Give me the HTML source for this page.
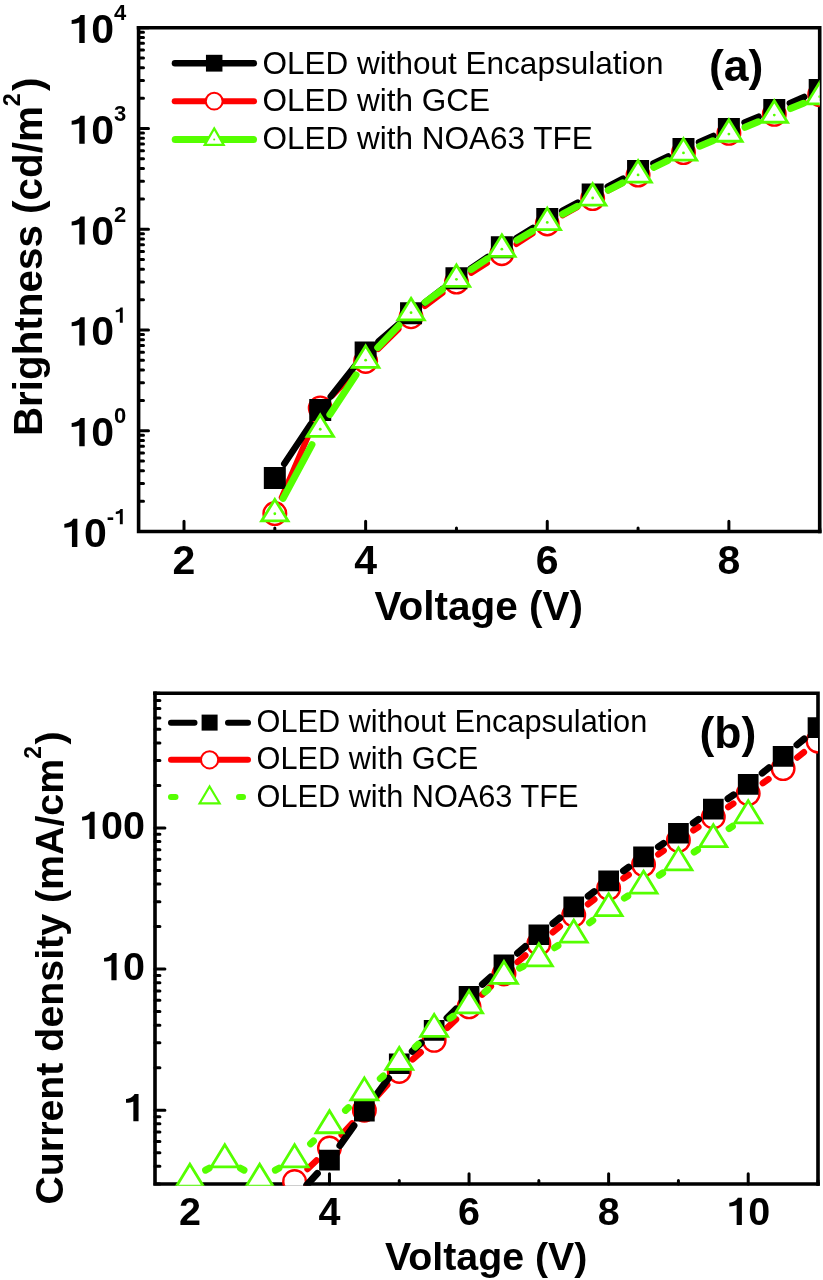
<!DOCTYPE html><html><head><meta charset="utf-8"><style>html,body{margin:0;padding:0;background:#fff;}svg{display:block;filter:blur(0.4px);}</style></head><body>
<svg width="823" height="1280" viewBox="0 0 823 1280" font-family='"Liberation Sans", sans-serif'>
<rect width="823" height="1280" fill="#fff"/>
<defs><clipPath id="c1"><rect x="138.6" y="27.7" width="681.1" height="505.6"/></clipPath>
<clipPath id="c2"><rect x="155" y="693.2" width="663" height="492.6"/></clipPath></defs>
<path d="M184.01 531.5V521.2M365.63 531.5V521.2M547.26 531.5V521.2M728.89 531.5V521.2M274.82 531.5V528.1M456.45 531.5V528.1M638.07 531.5V528.1M819.7 531.5V528.1M138.6 531.5H148.5M138.6 501.17H143.5M138.6 483.43H143.5M138.6 470.84H143.5M138.6 461.07H143.5M138.6 453.09H143.5M138.6 446.35H143.5M138.6 440.5H143.5M138.6 435.35H143.5M138.6 430.74H148.5M138.6 400.41H143.5M138.6 382.67H143.5M138.6 370.08H143.5M138.6 360.31H143.5M138.6 352.33H143.5M138.6 345.59H143.5M138.6 339.74H143.5M138.6 334.59H143.5M138.6 329.98H148.5M138.6 299.65H143.5M138.6 281.91H143.5M138.6 269.32H143.5M138.6 259.55H143.5M138.6 251.57H143.5M138.6 244.83H143.5M138.6 238.98H143.5M138.6 233.83H143.5M138.6 229.22H148.5M138.6 198.89H143.5M138.6 181.15H143.5M138.6 168.56H143.5M138.6 158.79H143.5M138.6 150.81H143.5M138.6 144.07H143.5M138.6 138.22H143.5M138.6 133.07H143.5M138.6 128.46H148.5M138.6 98.13H143.5M138.6 80.39H143.5M138.6 67.8H143.5M138.6 58.03H143.5M138.6 50.05H143.5M138.6 43.31H143.5M138.6 37.46H143.5M138.6 32.31H143.5M138.6 27.7H148.5" stroke="#000" stroke-width="3" stroke-linecap="round" fill="none"/>
<path d="M138.6 25.9V531.5H821.5" stroke="#000" stroke-width="3.6" fill="none" stroke-linejoin="miter"/>
<path d="M136.8 27.7H819.7V533.3" stroke="#000" stroke-width="3.6" fill="none" stroke-linejoin="miter"/>
<g clip-path="url(#c1)">
<path d="M281.73 497.49L313.31 424.04M332.45 395.44L353.41 373.94M378.11 349.15L398.56 329.05M424.95 306.16L442.54 292.74M471.28 272.84L487.02 262.99M516.48 244.1L532.63 233.49M562.55 215.36L577.38 207.1M608.21 190.55L622.53 183.15M653.74 167.32L667.81 160.33M699.59 145.71L712.77 140.13M745.04 126.56L758.14 121.09M790.35 107.4L803.64 101.66" stroke="#ff0000" stroke-width="6" fill="none" stroke-linecap="round"/>
<circle cx="274.82" cy="513.56" r="11.3" fill="#fff" stroke="#f00" stroke-width="2.4"/>
<circle cx="320.23" cy="407.97" r="11.3" fill="#fff" stroke="#f00" stroke-width="2.4"/>
<circle cx="365.63" cy="361.42" r="11.3" fill="#fff" stroke="#f00" stroke-width="2.4"/>
<circle cx="411.04" cy="316.78" r="11.3" fill="#fff" stroke="#f00" stroke-width="2.4"/>
<circle cx="456.45" cy="282.12" r="11.3" fill="#fff" stroke="#f00" stroke-width="2.4"/>
<circle cx="501.85" cy="253.7" r="11.3" fill="#fff" stroke="#f00" stroke-width="2.4"/>
<circle cx="547.26" cy="223.88" r="11.3" fill="#fff" stroke="#f00" stroke-width="2.4"/>
<circle cx="592.67" cy="198.59" r="11.3" fill="#fff" stroke="#f00" stroke-width="2.4"/>
<circle cx="638.07" cy="175.11" r="11.3" fill="#fff" stroke="#f00" stroke-width="2.4"/>
<circle cx="683.48" cy="152.54" r="11.3" fill="#fff" stroke="#f00" stroke-width="2.4"/>
<circle cx="728.89" cy="133.3" r="11.3" fill="#fff" stroke="#f00" stroke-width="2.4"/>
<circle cx="774.29" cy="114.35" r="11.3" fill="#fff" stroke="#f00" stroke-width="2.4"/>
<circle cx="819.7" cy="94.71" r="11.3" fill="#fff" stroke="#f00" stroke-width="2.4"/>
<path d="M284.25 463.85L310.8 424.03M330.77 396.55L355.09 365.79M378.5 341.34L398.17 324.36M424.5 302.86L442.99 288.58M470.51 268.64L487.79 256.91M516.26 238.34L532.85 227.96M562.22 210.87L577.7 202.53M607.75 186.62L622.99 178.71M653.4 163.53L668.15 156.46M699.03 142.25L713.34 135.93M744.58 122.52L758.6 116.67M789.84 103.25L804.15 96.94" stroke="#000" stroke-width="6.5" fill="none" stroke-linecap="round"/>
<path d="M263.82 467h22v22h-22zM309.23 398.88h22v22h-22zM354.63 341.45h22v22h-22zM400.04 302.25h22v22h-22zM445.45 267.19h22v22h-22zM490.85 236.36h22v22h-22zM536.26 207.94h22v22h-22zM581.67 183.46h22v22h-22zM627.07 159.88h22v22h-22zM672.48 138.12h22v22h-22zM717.89 118.06h22v22h-22zM763.29 99.12h22v22h-22zM808.7 79.07h22v22h-22z" fill="#000"/>
<path d="M283.1 498.35L311.95 444.65M329.84 414.61L356.02 374.83M377.72 347.55L398.96 325.31M425.14 302.29L442.34 289.66M471.03 269.62L487.27 258.85M516.94 240.3L532.17 231.34M562.66 214.16L577.26 206.29M608.27 190.06L622.47 182.84M653.83 167.29L667.73 160.57M699.64 146.24L712.72 140.81M745.02 127.33L758.16 121.83M790.52 108.51L803.47 103.27" stroke="#55ff00" stroke-width="7" fill="none" stroke-linecap="round"/>
<path d="M274.82 499.43L288.07 520.93L261.57 520.93Z" fill="#fff" stroke="#55ff00" stroke-width="2.8" stroke-linejoin="miter"/>
<circle cx="274.82" cy="513.77" r="1.4" fill="#55ff00"/>
<path d="M320.23 414.9L333.48 436.4L306.98 436.4Z" fill="#fff" stroke="#55ff00" stroke-width="2.8" stroke-linejoin="miter"/>
<circle cx="320.23" cy="429.23" r="1.4" fill="#55ff00"/>
<path d="M365.63 345.87L378.88 367.37L352.38 367.37Z" fill="#fff" stroke="#55ff00" stroke-width="2.8" stroke-linejoin="miter"/>
<circle cx="365.63" cy="360.21" r="1.4" fill="#55ff00"/>
<path d="M411.04 298.32L424.29 319.82L397.79 319.82Z" fill="#fff" stroke="#55ff00" stroke-width="2.8" stroke-linejoin="miter"/>
<circle cx="411.04" cy="312.65" r="1.4" fill="#55ff00"/>
<path d="M456.45 264.96L469.7 286.46L443.2 286.46Z" fill="#fff" stroke="#55ff00" stroke-width="2.8" stroke-linejoin="miter"/>
<circle cx="456.45" cy="279.3" r="1.4" fill="#55ff00"/>
<path d="M501.85 234.84L515.1 256.34L488.6 256.34Z" fill="#fff" stroke="#55ff00" stroke-width="2.8" stroke-linejoin="miter"/>
<circle cx="501.85" cy="249.17" r="1.4" fill="#55ff00"/>
<path d="M547.26 208.14L560.51 229.64L534.01 229.64Z" fill="#fff" stroke="#55ff00" stroke-width="2.8" stroke-linejoin="miter"/>
<circle cx="547.26" cy="222.47" r="1.4" fill="#55ff00"/>
<path d="M592.67 183.65L605.92 205.15L579.42 205.15Z" fill="#fff" stroke="#55ff00" stroke-width="2.8" stroke-linejoin="miter"/>
<circle cx="592.67" cy="197.98" r="1.4" fill="#55ff00"/>
<path d="M638.07 160.58L651.32 182.08L624.82 182.08Z" fill="#fff" stroke="#55ff00" stroke-width="2.8" stroke-linejoin="miter"/>
<circle cx="638.07" cy="174.91" r="1.4" fill="#55ff00"/>
<path d="M683.48 138.61L696.73 160.11L670.23 160.11Z" fill="#fff" stroke="#55ff00" stroke-width="2.8" stroke-linejoin="miter"/>
<circle cx="683.48" cy="152.94" r="1.4" fill="#55ff00"/>
<path d="M728.89 119.77L742.14 141.27L715.64 141.27Z" fill="#fff" stroke="#55ff00" stroke-width="2.8" stroke-linejoin="miter"/>
<circle cx="728.89" cy="134.1" r="1.4" fill="#55ff00"/>
<path d="M774.29 100.73L787.54 122.23L761.04 122.23Z" fill="#fff" stroke="#55ff00" stroke-width="2.8" stroke-linejoin="miter"/>
<circle cx="774.29" cy="115.06" r="1.4" fill="#55ff00"/>
<path d="M819.7 82.39L832.95 103.89L806.45 103.89Z" fill="#fff" stroke="#55ff00" stroke-width="2.8" stroke-linejoin="miter"/>
<circle cx="819.7" cy="96.72" r="1.4" fill="#55ff00"/>
</g>
<text x="172.61" y="574.4" font-size="41" font-weight="bold">2</text>
<text x="354.23" y="574.4" font-size="41" font-weight="bold">4</text>
<text x="535.86" y="574.4" font-size="41" font-weight="bold">6</text>
<text x="717.49" y="574.4" font-size="41" font-weight="bold">8</text>
<path d="M810 0L810 1409L600 1409C560 1300 420 1190 160 1150L160 960C330 965 460 990 540 1030L540 0Z" transform="matrix(0.02002 0 0 -0.02002 61.13 546.9)"/>
<text x="83.94" y="546.9" font-size="41" font-weight="bold">0</text>
<text x="106.74" y="524.2" font-size="22" font-weight="bold">-</text>
<path d="M810 0L810 1409L600 1409C560 1300 420 1190 160 1150L160 960C330 965 460 990 540 1030L540 0Z" transform="matrix(0.01074 0 0 -0.01074 114.06 524.2)"/>
<path d="M810 0L810 1409L600 1409C560 1300 420 1190 160 1150L160 960C330 965 460 990 540 1030L540 0Z" transform="matrix(0.02002 0 0 -0.02002 68.46 446.14)"/>
<text x="91.26" y="446.14" font-size="41" font-weight="bold">0</text>
<text x="114.06" y="423.44" font-size="22" font-weight="bold">0</text>
<path d="M810 0L810 1409L600 1409C560 1300 420 1190 160 1150L160 960C330 965 460 990 540 1030L540 0Z" transform="matrix(0.02002 0 0 -0.02002 68.46 345.38)"/>
<text x="91.26" y="345.38" font-size="41" font-weight="bold">0</text>
<path d="M810 0L810 1409L600 1409C560 1300 420 1190 160 1150L160 960C330 965 460 990 540 1030L540 0Z" transform="matrix(0.01074 0 0 -0.01074 114.06 322.68)"/>
<path d="M810 0L810 1409L600 1409C560 1300 420 1190 160 1150L160 960C330 965 460 990 540 1030L540 0Z" transform="matrix(0.02002 0 0 -0.02002 68.46 244.62)"/>
<text x="91.26" y="244.62" font-size="41" font-weight="bold">0</text>
<text x="114.06" y="221.92" font-size="22" font-weight="bold">2</text>
<path d="M810 0L810 1409L600 1409C560 1300 420 1190 160 1150L160 960C330 965 460 990 540 1030L540 0Z" transform="matrix(0.02002 0 0 -0.02002 68.46 143.86)"/>
<text x="91.26" y="143.86" font-size="41" font-weight="bold">0</text>
<text x="114.06" y="121.16" font-size="22" font-weight="bold">3</text>
<path d="M810 0L810 1409L600 1409C560 1300 420 1190 160 1150L160 960C330 965 460 990 540 1030L540 0Z" transform="matrix(0.02002 0 0 -0.02002 68.46 43.1)"/>
<text x="91.26" y="43.1" font-size="41" font-weight="bold">0</text>
<text x="114.06" y="20.4" font-size="22" font-weight="bold">4</text>
<text x="478.75" y="620.1" font-size="40.5" font-weight="bold" text-anchor="middle">Voltage (V)</text>
<text transform="translate(41.8 436.1) rotate(-90)" font-size="40.4" font-weight="bold">Brightness (cd/m<tspan dy="-22" font-size="23.5">2</tspan><tspan dy="22" dx="2">)</tspan></text>
<text x="709" y="81.3" font-size="44.5" font-weight="bold">(a)</text>
<path d="M174.95 63.2H253.75" stroke="#000" stroke-width="6.5" stroke-linecap="round"/>
<path d="M174.7 101.2H254" stroke="#ff0000" stroke-width="6" stroke-linecap="round"/>
<path d="M175.2 139.6H253.5" stroke="#55ff00" stroke-width="7" stroke-linecap="round"/>
<rect x="205.95" y="54.8" width="16.5" height="16.8" fill="#000"/>
<circle cx="214.2" cy="101.2" r="8.4" fill="#fff" stroke="#ff0000" stroke-width="2"/>
<path d="M214.2 128.4L223.7 144.9L204.7 144.9Z" fill="#fff" stroke="#55ff00" stroke-width="2.2"/>
<circle cx="214.2" cy="139.4" r="1" fill="#55ff00"/>
<text x="262.5" y="73.5" font-size="31.5">OLED without Encapsulation</text>
<text x="262.5" y="111.2" font-size="31.5">OLED with GCE</text>
<text x="262.5" y="148.9" font-size="31.5">OLED with NOA63 TFE</text>
<path d="M189.89 1184V1173.7M329.47 1184V1173.7M469.05 1184V1173.7M608.63 1184V1173.7M748.21 1184V1173.7M259.68 1184V1180.6M399.26 1184V1180.6M538.84 1184V1180.6M678.42 1184V1180.6M818 1184V1180.6M155 1184H159.9M155 1166.36H159.9M155 1152.69H159.9M155 1141.51H159.9M155 1132.06H159.9M155 1123.87H159.9M155 1116.65H159.9M155 1110.2H164.9M155 1067.7H159.9M155 1042.85H159.9M155 1025.21H159.9M155 1011.53H159.9M155 1000.36H159.9M155 990.91H159.9M155 982.72H159.9M155 975.5H159.9M155 969.04H164.9M155 926.55H159.9M155 901.7H159.9M155 884.06H159.9M155 870.38H159.9M155 859.21H159.9M155 849.76H159.9M155 841.57H159.9M155 834.35H159.9M155 827.89H164.9M155 785.4H159.9M155 760.55H159.9M155 742.91H159.9M155 729.23H159.9M155 718.06H159.9M155 708.61H159.9M155 700.42H159.9M155 693.2H159.9" stroke="#000" stroke-width="3" stroke-linecap="round" fill="none"/>
<path d="M155 691.4V1184H819.8" stroke="#000" stroke-width="3.6" fill="none" stroke-linejoin="miter"/>
<path d="M153.2 693.2H818V1185.8" stroke="#000" stroke-width="3.6" fill="none" stroke-linejoin="miter"/>
<g clip-path="url(#c2)">
<path d="M307.57 1169.02L316.48 1160.48M341.68 1134.79L352.16 1123.43M376.4 1096.81L387.23 1084.76M412.71 1059.41L420.71 1052.29M447.15 1027.87L456.06 1019.33M482.15 994.53L490.85 986.33M517.53 962.17L525.26 955.45M552.78 932.25L559.8 926.51M588.04 904.19L594.33 899.38M623.49 878.29L628.67 874.75M658.3 854.31L663.65 850.59M693.39 830.32L698.34 827.02M728.26 806.99L733.27 803.63M762.85 783.11L768.47 779.09M797.24 757.46L803.87 752.23" stroke="#ff0000" stroke-width="6.5" fill="none" stroke-linecap="round"/>
<circle cx="294.58" cy="1181.48" r="11.3" fill="#fff" stroke="#f00" stroke-width="2.4"/>
<circle cx="329.47" cy="1148.02" r="11.3" fill="#fff" stroke="#f00" stroke-width="2.4"/>
<circle cx="364.37" cy="1110.2" r="11.3" fill="#fff" stroke="#f00" stroke-width="2.4"/>
<circle cx="399.26" cy="1071.38" r="11.3" fill="#fff" stroke="#f00" stroke-width="2.4"/>
<circle cx="434.16" cy="1040.33" r="11.3" fill="#fff" stroke="#f00" stroke-width="2.4"/>
<circle cx="469.05" cy="1006.87" r="11.3" fill="#fff" stroke="#f00" stroke-width="2.4"/>
<circle cx="503.95" cy="973.98" r="11.3" fill="#fff" stroke="#f00" stroke-width="2.4"/>
<circle cx="538.84" cy="943.64" r="11.3" fill="#fff" stroke="#f00" stroke-width="2.4"/>
<circle cx="573.74" cy="915.12" r="11.3" fill="#fff" stroke="#f00" stroke-width="2.4"/>
<circle cx="608.63" cy="888.45" r="11.3" fill="#fff" stroke="#f00" stroke-width="2.4"/>
<circle cx="643.53" cy="864.59" r="11.3" fill="#fff" stroke="#f00" stroke-width="2.4"/>
<circle cx="678.42" cy="840.31" r="11.3" fill="#fff" stroke="#f00" stroke-width="2.4"/>
<circle cx="713.32" cy="817.02" r="11.3" fill="#fff" stroke="#f00" stroke-width="2.4"/>
<circle cx="748.21" cy="793.59" r="11.3" fill="#fff" stroke="#f00" stroke-width="2.4"/>
<circle cx="783.11" cy="768.61" r="11.3" fill="#fff" stroke="#f00" stroke-width="2.4"/>
<circle cx="818" cy="741.08" r="11.3" fill="#fff" stroke="#f00" stroke-width="2.4"/>
<path d="M306.71 1185.12L317.34 1173.46M339.9 1145.49L353.94 1125.72M375.06 1096.56L388.58 1078.24M412.28 1051.33L421.14 1042.87M447.05 1017.88L456.16 1008.99M482.42 984.37L490.58 977.01M517.56 953.17L525.23 946.52M552.89 923.49L559.69 918.05M588.2 896.09L594.16 891.67M623.46 870.77L628.69 867.17M658.41 846.85L663.53 843.37M693.22 823.02L698.51 819.36M728.01 798.72L733.52 794.82M762.23 773.13L769.08 767.62M796.99 744.87L804.12 738.99" stroke="#000" stroke-width="7" fill="none" stroke-linecap="round"/>
<path d="M284.23 1188.06h20.7v20.7h-20.7zM319.12 1149.81h20.7v20.7h-20.7zM354.02 1100.69h20.7v20.7h-20.7zM388.91 1053.41h20.7v20.7h-20.7zM423.81 1020.09h20.7v20.7h-20.7zM458.7 986.08h20.7v20.7h-20.7zM493.6 954.6h20.7v20.7h-20.7zM528.49 924.39h20.7v20.7h-20.7zM563.39 896.45h20.7v20.7h-20.7zM598.28 870.62h20.7v20.7h-20.7zM633.18 846.62h20.7v20.7h-20.7zM668.07 822.91h20.7v20.7h-20.7zM702.97 798.77h20.7v20.7h-20.7zM737.86 774.07h20.7v20.7h-20.7zM772.76 745.98h20.7v20.7h-20.7zM807.65 717.18h20.7v20.7h-20.7z" fill="#000"/>
<path d="M205.6 1170.17L209.09 1168.22M240.49 1168.22L243.98 1170.17M275.39 1170.17L278.88 1168.22M310.59 1143.84L313.46 1141.05M345.47 1110.37L348.38 1107.62M380.31 1078.62L383.32 1075.99M415.26 1046.92L418.16 1044.17M449.95 1018.37L453.26 1016.13M484.97 992.07L488.03 989.49M519.61 968.18L523.18 966.38M554.64 947.72L557.94 945.48M589.59 922.75L592.78 920.34M624.4 898.14L627.76 895.97M659.31 875.23L662.64 873.01M694.2 852.01L697.54 849.79M729.11 828.53L732.41 826.27" stroke="#55ff00" stroke-width="7" stroke-linecap="round" fill="none"/>
<path d="M189.89 1164.27L203.39 1186.27L176.39 1186.27Z" fill="#fff" stroke="#55ff00" stroke-width="2.8" stroke-linejoin="miter"/>
<path d="M224.79 1144.79L238.29 1166.79L211.29 1166.79Z" fill="#fff" stroke="#55ff00" stroke-width="2.8" stroke-linejoin="miter"/>
<path d="M259.68 1164.27L273.18 1186.27L246.18 1186.27Z" fill="#fff" stroke="#55ff00" stroke-width="2.8" stroke-linejoin="miter"/>
<path d="M294.58 1144.79L308.08 1166.79L281.08 1166.79Z" fill="#fff" stroke="#55ff00" stroke-width="2.8" stroke-linejoin="miter"/>
<path d="M329.47 1110.77L342.97 1132.77L315.97 1132.77Z" fill="#fff" stroke="#55ff00" stroke-width="2.8" stroke-linejoin="miter"/>
<path d="M364.37 1077.88L377.87 1099.88L350.87 1099.88Z" fill="#fff" stroke="#55ff00" stroke-width="2.8" stroke-linejoin="miter"/>
<path d="M399.26 1047.4L412.76 1069.4L385.76 1069.4Z" fill="#fff" stroke="#55ff00" stroke-width="2.8" stroke-linejoin="miter"/>
<path d="M434.16 1014.37L447.66 1036.37L420.66 1036.37Z" fill="#fff" stroke="#55ff00" stroke-width="2.8" stroke-linejoin="miter"/>
<path d="M469.05 990.79L482.55 1012.79L455.55 1012.79Z" fill="#fff" stroke="#55ff00" stroke-width="2.8" stroke-linejoin="miter"/>
<path d="M503.95 961.43L517.45 983.43L490.45 983.43Z" fill="#fff" stroke="#55ff00" stroke-width="2.8" stroke-linejoin="miter"/>
<path d="M538.84 943.79L552.34 965.79L525.34 965.79Z" fill="#fff" stroke="#55ff00" stroke-width="2.8" stroke-linejoin="miter"/>
<path d="M573.74 920.08L587.24 942.08L560.24 942.08Z" fill="#fff" stroke="#55ff00" stroke-width="2.8" stroke-linejoin="miter"/>
<path d="M608.63 893.68L622.13 915.68L595.13 915.68Z" fill="#fff" stroke="#55ff00" stroke-width="2.8" stroke-linejoin="miter"/>
<path d="M643.53 871.1L657.03 893.1L630.03 893.1Z" fill="#fff" stroke="#55ff00" stroke-width="2.8" stroke-linejoin="miter"/>
<path d="M678.42 847.81L691.92 869.81L664.92 869.81Z" fill="#fff" stroke="#55ff00" stroke-width="2.8" stroke-linejoin="miter"/>
<path d="M713.32 824.66L726.82 846.66L699.82 846.66Z" fill="#fff" stroke="#55ff00" stroke-width="2.8" stroke-linejoin="miter"/>
<path d="M748.21 800.8L761.71 822.8L734.71 822.8Z" fill="#fff" stroke="#55ff00" stroke-width="2.8" stroke-linejoin="miter"/>
</g>
<text x="178.91" y="1224.9" font-size="39.5" font-weight="bold">2</text>
<text x="318.49" y="1224.9" font-size="39.5" font-weight="bold">4</text>
<text x="458.07" y="1224.9" font-size="39.5" font-weight="bold">6</text>
<text x="597.65" y="1224.9" font-size="39.5" font-weight="bold">8</text>
<path d="M810 0L810 1409L600 1409C560 1300 420 1190 160 1150L160 960C330 965 460 990 540 1030L540 0Z" transform="matrix(0.01929 0 0 -0.01929 726.24 1224.9)"/>
<text x="748.21" y="1224.9" font-size="39.5" font-weight="bold">0</text>
<path d="M810 0L810 1409L600 1409C560 1300 420 1190 160 1150L160 960C330 965 460 990 540 1030L540 0Z" transform="matrix(0.01929 0 0 -0.01929 122.93 1121.3)"/>
<path d="M810 0L810 1409L600 1409C560 1300 420 1190 160 1150L160 960C330 965 460 990 540 1030L540 0Z" transform="matrix(0.01929 0 0 -0.01929 100.96 980.14)"/>
<text x="122.93" y="980.14" font-size="39.5" font-weight="bold">0</text>
<path d="M810 0L810 1409L600 1409C560 1300 420 1190 160 1150L160 960C330 965 460 990 540 1030L540 0Z" transform="matrix(0.01929 0 0 -0.01929 79 838.99)"/>
<text x="100.96" y="838.99" font-size="39.5" font-weight="bold">00</text>
<text x="486.2" y="1270.2" font-size="39.3" font-weight="bold" text-anchor="middle">Voltage (V)</text>
<text transform="translate(63.4 1204.6) rotate(-90)" font-size="39.35" font-weight="bold">Current density (mA/cm<tspan dy="-22" font-size="23">2</tspan><tspan dy="22" dx="1.5">)</tspan></text>
<text x="699.5" y="748.1" font-size="44.5" font-weight="bold">(b)</text>
<path d="M171 722.7H194.5M228 722.7H248" stroke="#000" stroke-width="6" stroke-linecap="round"/>
<rect x="201.6" y="714.6" width="16" height="16" fill="#000"/>
<path d="M171 759.8H248" stroke="#ff0000" stroke-width="6" stroke-linecap="round"/>
<circle cx="209.6" cy="759.8" r="8.6" fill="#fff" stroke="#ff0000" stroke-width="2"/>
<path d="M171 797H175.5M239 797H243" stroke="#55ff00" stroke-width="6" stroke-linecap="round"/>
<path d="M209.6 786.5L219.6 803.3L199.6 803.3Z" fill="#fff" stroke="#55ff00" stroke-width="2.2"/>
<text x="256.6" y="732" font-size="30.7">OLED without Encapsulation</text>
<text x="256.6" y="769.3" font-size="30.7">OLED with GCE</text>
<text x="256.6" y="806.6" font-size="30.7">OLED with NOA63 TFE</text>
</svg></body></html>
